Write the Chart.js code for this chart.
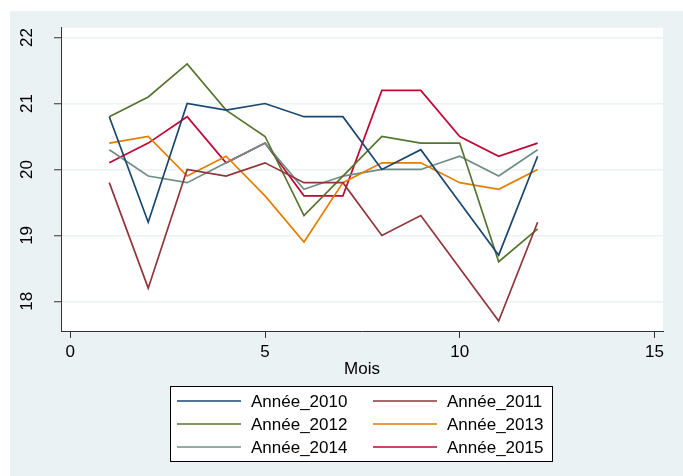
<!DOCTYPE html>
<html>
<head>
<meta charset="utf-8">
<script src="https://cdn.jsdelivr.net/npm/chart.js@4"></script>
<style>
  html, body { margin: 0; padding: 0; background: #ffffff; }
  #wrap { width: 683px; height: 476px; }
</style>
</head>
<body>
<div id="wrap"><canvas id="c" width="683" height="476"></canvas></div>
<script>
// Températures mensuelles par année
const mois = [1, 2, 3, 4, 5, 6, 7, 8, 9, 10, 11, 12];
const annee2010 = [20.8, 19.2, 21.0, 20.9, 21.0, 20.8, 20.8, 20.0, 20.3, 19.5, 18.7, 20.2];
const annee2011 = [19.8, 18.2, 20.0, 19.9, 20.1, 19.8, 19.8, 19.0, 19.3, 18.5, 17.7, 19.2];
const annee2012 = [20.8, 21.1, 21.6, 20.9, 20.5, 19.3, 19.9, 20.5, 20.4, 20.4, 18.6, 19.1];
const annee2013 = [20.4, 20.5, 19.9, 20.2, 19.6, 18.9, 19.8, 20.1, 20.1, 19.8, 19.7, 20.0];
const annee2014 = [20.3, 19.9, 19.8, 20.1, 20.4, 19.7, 19.9, 20.0, 20.0, 20.2, 19.9, 20.3];
const annee2015 = [20.1, 20.4, 20.8, 20.1, 20.4, 19.6, 19.6, 21.2, 21.2, 20.5, 20.2, 20.4];
const seriesLabels = ['Année_2010', 'Année_2011', 'Année_2012', 'Année_2013', 'Année_2014', 'Année_2015'];
const xTicks = [0, 5, 10, 15];
const yTicks = [18, 19, 20, 21, 22];

const seriesValues = [annee2010, annee2011, annee2012, annee2013, annee2014, annee2015];
const palette = ['#1a476f', '#90353b', '#55752f', '#e37e00', '#6e8e84', '#c10534'];
const FONT = '"Liberation Sans", Arial, sans-serif';
const BG = '#eaf2f3';

const datasets = seriesValues.map((vals, i) => ({
  label: seriesLabels[i],
  data: vals.map((v, j) => ({ x: mois[j], y: v })),
  borderColor: palette[i],
  backgroundColor: palette[i],
  borderWidth: 1.7,
  pointRadius: 0,
  tension: 0,
  fill: false
}));

// Fond du graphique : cadre bleu clair et zone de tracé blanche
const backdrop = {
  id: 'backdrop',
  beforeDraw(chart) {
    const { ctx, chartArea: a } = chart;
    ctx.save();
    ctx.fillStyle = '#ffffff';
    ctx.fillRect(0, 0, chart.width, chart.height);
    ctx.fillStyle = BG;
    ctx.fillRect(10, 11, chart.width - 10, chart.height - 11);
    ctx.fillStyle = '#ffffff';
    ctx.fillRect(a.left, a.top, a.right - a.left, a.bottom - a.top);
    ctx.restore();
  }
};

// Légende encadrée sur deux colonnes
const boxedLegend = {
  id: 'boxedLegend',
  afterDraw(chart) {
    const { ctx } = chart;
    const box = { x: 170.5, y: 386.5, w: 382, h: 75 };
    ctx.save();
    ctx.fillStyle = '#ffffff';
    ctx.fillRect(box.x, box.y, box.w, box.h);
    ctx.strokeStyle = '#000000';
    ctx.lineWidth = 1;
    ctx.strokeRect(box.x, box.y, box.w, box.h);
    const colX = [177, 373];
    const rowY = [401, 424, 447];
    ctx.font = '17px ' + FONT;
    ctx.textBaseline = 'middle';
    ctx.textAlign = 'left';
    chart.data.datasets.forEach((ds, i) => {
      const cx = colX[i % 2];
      const cy = rowY[Math.floor(i / 2)];
      ctx.strokeStyle = ds.borderColor;
      ctx.lineWidth = 1.7;
      ctx.beginPath();
      ctx.moveTo(cx, cy);
      ctx.lineTo(cx + 64, cy);
      ctx.stroke();
      ctx.fillStyle = '#000000';
      ctx.fillText(ds.label, cx + 74, cy + 1);
    });
    ctx.restore();
  }
};

new Chart(document.getElementById('c'), {
  type: 'line',
  data: { datasets },
  plugins: [backdrop, boxedLegend],
  options: {
    responsive: false,
    animation: false,
    devicePixelRatio: 1,
    layout: { padding: { left: 10, top: 27, right: 20, bottom: 0 } },
    plugins: { legend: { display: false }, tooltip: { enabled: false } },
    scales: {
      x: {
        type: 'linear',
        min: -0.24,
        max: 15.22,
        afterBuildTicks(scale) { scale.ticks = xTicks.map(v => ({ value: v })); },
        afterFit(scale) { scale.height = 145; },
        grid: { display: true, drawOnChartArea: false, tickLength: 7, tickColor: '#333333', tickWidth: 1 },
        border: { display: true, color: '#333333', width: 1 },
        ticks: { color: '#000000', font: { family: FONT, size: 17 }, padding: 4, maxRotation: 0 },
        title: { display: true, text: 'Mois', color: '#000000', font: { family: FONT, size: 17 }, padding: { top: 0, bottom: 96 } }
      },
      y: {
        type: 'linear',
        min: 17.55,
        max: 22.15,
        afterBuildTicks(scale) { scale.ticks = yTicks.map(v => ({ value: v })); },
        afterFit(scale) { scale.width = 51; },
        grid: { display: true, color: BG, lineWidth: 1.5, tickLength: 7, tickColor: '#333333', tickWidth: 1 },
        border: { display: true, color: '#333333', width: 1 },
        ticks: { color: '#000000', font: { family: FONT, size: 17 }, padding: 17.5, minRotation: 90, maxRotation: 90, crossAlign: 'center' }
      }
    }
  }
});
</script>
</body>
</html>
